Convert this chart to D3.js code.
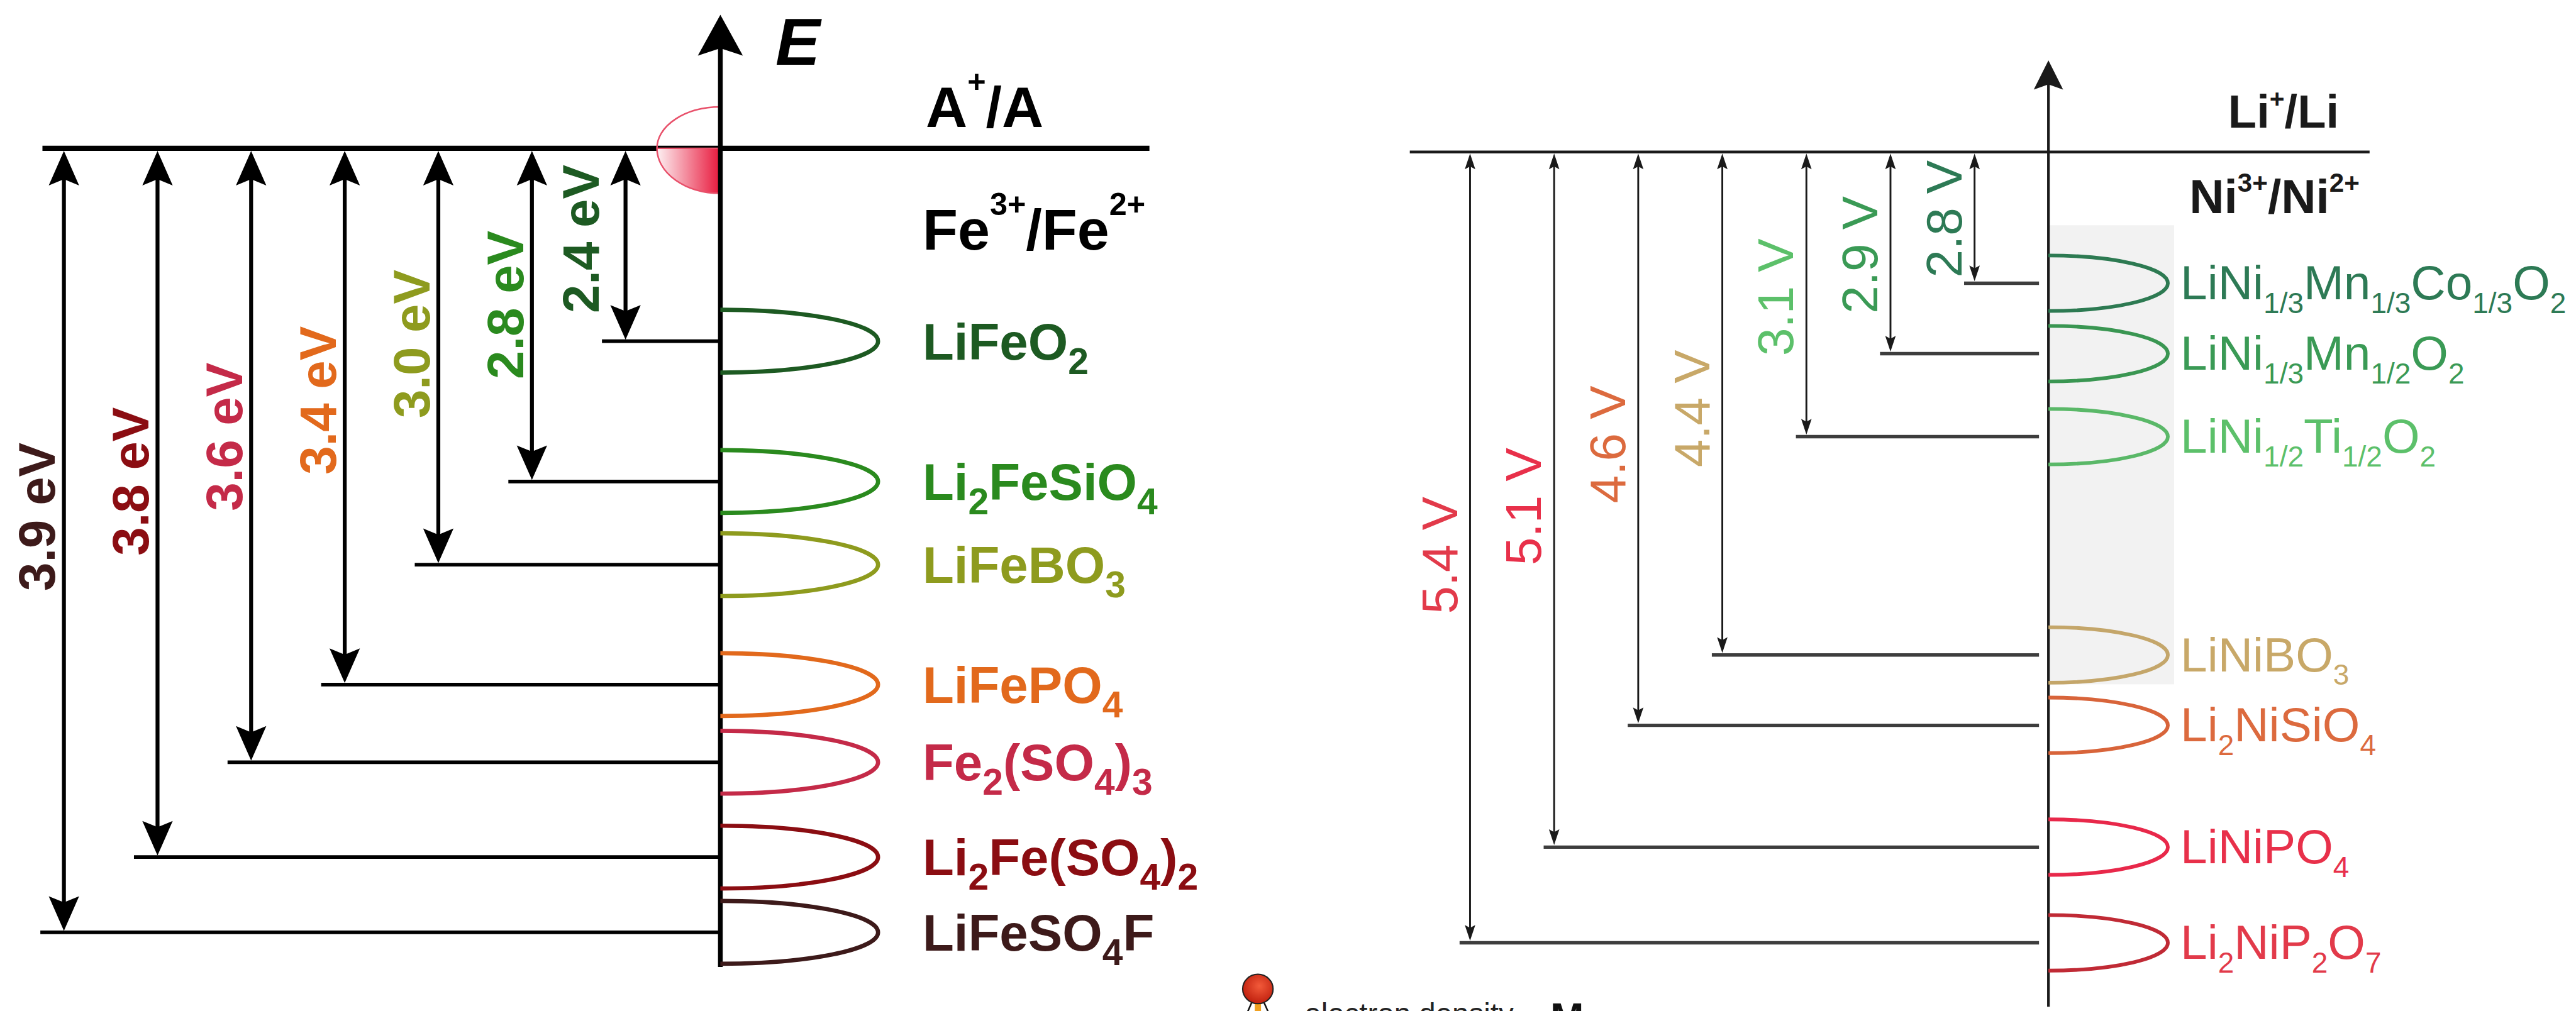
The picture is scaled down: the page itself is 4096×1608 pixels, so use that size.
<!DOCTYPE html>
<html>
<head>
<meta charset="utf-8">
<script src="https://cdn.jsdelivr.net/npm/d3@7"></script>
<style>
  html, body { margin: 0; padding: 0; background: #fff; }
  svg { display: block; }
  text { font-family: "Liberation Sans", Arial, Helvetica, sans-serif; }
</style>
</head>
<body>
<div id="chart"></div>
<script>
// ---- left panel: Fe3+/Fe2+ couple, energy below A+/A
const feCompounds = ["LiFeO2", "Li2FeSiO4", "LiFeBO3", "LiFePO4", "Fe2(SO4)3", "Li2Fe(SO4)2", "LiFeSO4F"];
const feEnergies = [2.4, 2.8, 3.0, 3.4, 3.6, 3.8, 3.9];
// where each level is drawn on the (not to scale) axis: 0 = A+/A line, 1 = lowest level
const feDepth = [0.246, 0.425, 0.531, 0.684, 0.783, 0.904, 1.0];
const feColors = ["#1d5a22", "#2a8a1e", "#8e9b1e", "#e2691c", "#c42a48", "#8b0d12", "#3d1a1a"];

// ---- right panel: Ni3+/Ni2+ couple, voltage vs Li+/Li
const niCompounds = ["LiNi1/3Mn1/3Co1/3O2", "LiNi1/3Mn1/2O2", "LiNi1/2Ti1/2O2", "LiNiBO3", "Li2NiSiO4", "LiNiPO4", "Li2NiP2O7"];
const niVoltages = [2.8, 2.9, 3.1, 4.4, 4.6, 5.1, 5.4];
const niDepth = [0.166, 0.255, 0.360, 0.636, 0.725, 0.879, 1.0];
const niColors = ["#2d7a52", "#3a9652", "#5ab868", "#c4a66a", "#d8643a", "#e8284a", "#c02a35"];
const niLabelColors = ["#2d7a55", "#3a9a55", "#5cc06a", "#c8a868", "#dc6a3e", "#e8304a", "#e23a4a"];

// reference is 4917 x 1930, drawn at 0.833 through the viewBox
const W = 4917, H = 1930;
const svg = d3.select("#chart").append("svg")
    .attr("width", 4096)
    .attr("height", 1608)
    .attr("viewBox", `0 0 ${W} ${H}`);

const defs = svg.append("defs");
const eGrad = defs.append("linearGradient").attr("id", "eGrad")
    .attr("x1", "0").attr("x2", "1").attr("y1", "0").attr("y2", "0");
eGrad.append("stop").attr("offset", "0%").attr("stop-color", "#fdf0f2");
eGrad.append("stop").attr("offset", "100%").attr("stop-color", "#e8183c");
const ballGrad = defs.append("radialGradient").attr("id", "ballGrad")
    .attr("cx", "0.55").attr("cy", "0.4").attr("r", "0.6");
ballGrad.append("stop").attr("offset", "0%").attr("stop-color", "#f25a3a");
ballGrad.append("stop").attr("offset", "100%").attr("stop-color", "#c0200e");

// filled arrow head, dir = +1 points up (body below), -1 points down
function arrowHead(g, x, tipY, dir, len, hw, color) {
    const b = tipY + dir * len, n = tipY + dir * len * 0.82;
    g.append("path")
        .attr("d", `M${x},${tipY}L${x - hw},${b}L${x},${n}L${x + hw},${b}Z`)
        .attr("fill", color);
}

// parts: [text, shift] with shift -1 = superscript, +1 = subscript
function richText(sel, parts, scale, shiftEm) {
    const fs = +sel.attr("font-size");
    let cur = 0;
    parts.forEach(([t, s]) => {
        const target = s * shiftEm * fs;
        const ts = sel.append("tspan").text(t);
        if (s !== 0) ts.attr("font-size", fs * scale);
        if (target !== cur) ts.attr("dy", target - cur);
        cur = target;
    });
}

// numbers (and fractions like 1/3) in a formula become subscripts
function formulaParts(s) {
    return s.match(/[0-9/]+|[^0-9/]+/g).map(p => [p, /^[0-9/]+$/.test(p) ? 1 : 0]);
}

// ================= left panel =================
const left = svg.append("g");
const axisFe = 1375;
const yFe = d3.scaleLinear().domain([0, 1]).range([283, 1780]);
const xFe = d3.scalePoint().domain(feCompounds.slice().reverse()).range([122, 1194]);

// reference line A+/A
left.append("line")
    .attr("x1", 81).attr("x2", 2194)
    .attr("y1", yFe(0)).attr("y2", yFe(0))
    .attr("stroke", "#000").attr("stroke-width", 10);

// electron density of the metal anode (half lobe on the axis)
left.append("path")
    .attr("d", `M${axisFe},${yFe(0)}L${axisFe - 121},${yFe(0)}A121 86 0 0 0 ${axisFe},${yFe(0) + 86}Z`)
    .attr("fill", "url(#eGrad)")
    .attr("stroke", "#e8506a").attr("stroke-width", 3);
left.append("path")
    .attr("d", `M${axisFe},${yFe(0) - 79}A121 79 0 0 0 ${axisFe - 121},${yFe(0)}`)
    .attr("fill", "none")
    .attr("stroke", "#e8506a").attr("stroke-width", 3);

// energy axis
left.append("line")
    .attr("x1", axisFe).attr("x2", axisFe)
    .attr("y1", 1846).attr("y2", 90)
    .attr("stroke", "#000").attr("stroke-width", 9);
arrowHead(left, axisFe, 28, 1, 78, 43, "#000");
left.append("text")
    .attr("x", 1480).attr("y", 124)
    .attr("font-size", 128).attr("font-weight", "bold").attr("font-style", "italic")
    .text("E");

left.append("text")
    .attr("x", 1767).attr("y", 242)
    .attr("font-size", 110).attr("font-weight", "bold")
    .call(richText, [["A", 0], ["+", -1], ["/A", 0]], 0.55, 0.6);
left.append("text")
    .attr("x", 1761).attr("y", 477)
    .attr("font-size", 110).attr("font-weight", "bold")
    .call(richText, [["Fe", 0], ["3+", -1], ["/Fe", 0], ["2+", -1]], 0.55, 0.6);

feCompounds.forEach((c, i) => {
    const x = xFe(c), yl = yFe(feDepth[i]), y0 = yFe(0), col = feColors[i];

    left.append("line")
        .attr("x1", x - 45).attr("x2", axisFe)
        .attr("y1", yl).attr("y2", yl)
        .attr("stroke", "#000").attr("stroke-width", 7);

    left.append("line")
        .attr("x1", x).attr("x2", x)
        .attr("y1", y0 + 40).attr("y2", yl - 40)
        .attr("stroke", "#000").attr("stroke-width", 7.5);
    arrowHead(left, x, y0 + 5, 1, 66, 29, "#000");
    arrowHead(left, x, yl - 3, -1, 66, 29, "#000");

    left.append("path")
        .attr("d", `M${axisFe},${yl - 60}A301 60 0 0 1 ${axisFe},${yl + 60}`)
        .attr("fill", "none")
        .attr("stroke", col).attr("stroke-width", 8);

    left.append("text")
        .attr("x", 1761).attr("y", yl + 35)
        .attr("font-size", 98).attr("font-weight", "bold")
        .attr("fill", col)
        .call(richText, formulaParts(c), 0.72, 0.28);

    // value label, set along the arrow
    const lx = i === 0 ? x - 51 : x - 17;
    const ly = y0 + 0.47 * (yl - y0);
    left.append("text")
        .attr("transform", `translate(${lx},${ly}) rotate(-90)`)
        .attr("text-anchor", "middle")
        .attr("font-size", 98).attr("font-weight", "bold")
        .attr("fill", col)
        .text(`${feEnergies[i].toFixed(1)} eV`);
});

// ================= right panel =================
const right = svg.append("g");
const axisNi = 3910;
const yNi = d3.scaleLinear().domain([0, 1]).range([290, 1800]);
const xNi = d3.scalePoint().domain(niCompounds.slice().reverse()).range([2806, 3769]);

// shaded box behind the layered oxides and the borate
right.append("rect")
    .attr("x", axisNi).attr("y", 430)
    .attr("width", 240).attr("height", yNi(niDepth[3]) + 56 - 430)
    .attr("fill", "#f2f2f2");

right.append("line")
    .attr("x1", 2691).attr("x2", 4523)
    .attr("y1", yNi(0)).attr("y2", yNi(0))
    .attr("stroke", "#1a1a1a").attr("stroke-width", 5.5);

right.append("line")
    .attr("x1", axisNi).attr("x2", axisNi)
    .attr("y1", 1922).attr("y2", 150)
    .attr("stroke", "#1a1a1a").attr("stroke-width", 5);
arrowHead(right, axisNi, 115, 1, 56, 28, "#1a1a1a");

right.append("text")
    .attr("x", 4253).attr("y", 243)
    .attr("font-size", 89).attr("font-weight", "bold").attr("fill", "#1a1a1a")
    .call(richText, [["Li", 0], ["+", -1], ["/Li", 0]], 0.55, 0.42);
right.append("text")
    .attr("x", 4179).attr("y", 407)
    .attr("font-size", 92).attr("font-weight", "bold").attr("fill", "#1a1a1a")
    .call(richText, [["Ni", 0], ["3+", -1], ["/Ni", 0], ["2+", -1]], 0.55, 0.45);

niCompounds.forEach((c, i) => {
    const x = xNi(c), yl = yNi(niDepth[i]), y0 = yNi(0);

    right.append("line")
        .attr("x1", x - 20).attr("x2", axisNi - 18)
        .attr("y1", yl).attr("y2", yl)
        .attr("stroke", "#3d3d3d").attr("stroke-width", 6.5);

    right.append("line")
        .attr("x1", x).attr("x2", x)
        .attr("y1", y0 + 20).attr("y2", yl - 20)
        .attr("stroke", "#1a1a1a").attr("stroke-width", 3.5);
    arrowHead(right, x, y0 + 3, 1, 30, 10, "#1a1a1a");
    arrowHead(right, x, yl - 4, -1, 30, 10, "#1a1a1a");

    right.append("path")
        .attr("d", `M${axisNi},${yl - 53}A228 53 0 0 1 ${axisNi},${yl + 53}`)
        .attr("fill", "none")
        .attr("stroke", niColors[i]).attr("stroke-width", 7);

    right.append("text")
        .attr("x", 4162).attr("y", yl + 31)
        .attr("font-size", 92)
        .attr("fill", niLabelColors[i])
        .call(richText, formulaParts(c), 0.6, 0.28);

    const lx = x - 25, ly = y0 + 0.51 * (yl - y0);
    right.append("text")
        .attr("transform", `translate(${lx},${ly}) rotate(-90)`)
        .attr("text-anchor", "middle")
        .attr("font-size", 96)
        .attr("fill", niLabelColors[i])
        .text(`${niVoltages[i].toFixed(1)} V`);
});

// ================= cropped legend at the bottom edge =================
const legend = svg.append("g");
legend.append("line").attr("x1", 2401).attr("x2", 2401).attr("y1", 1915).attr("y2", 1935)
    .attr("stroke", "#f0a020").attr("stroke-width", 12);
legend.append("line").attr("x1", 2390).attr("x2", 2380).attr("y1", 1912).attr("y2", 1935)
    .attr("stroke", "#111").attr("stroke-width", 3);
legend.append("line").attr("x1", 2412).attr("x2", 2422).attr("y1", 1912).attr("y2", 1935)
    .attr("stroke", "#111").attr("stroke-width", 3);
legend.append("ellipse")
    .attr("cx", 2401).attr("cy", 1888).attr("rx", 29).attr("ry", 28)
    .attr("fill", "url(#ballGrad)").attr("stroke", "#222").attr("stroke-width", 2.5);
legend.append("text")
    .attr("x", 2490).attr("y", 1955)
    .attr("font-size", 57).attr("fill", "#222")
    .text("electron density");
legend.append("text")
    .attr("x", 2959).attr("y", 1970)
    .attr("font-size", 77).attr("font-weight", "bold").attr("fill", "#111")
    .text("M");
</script>
</body>
</html>
